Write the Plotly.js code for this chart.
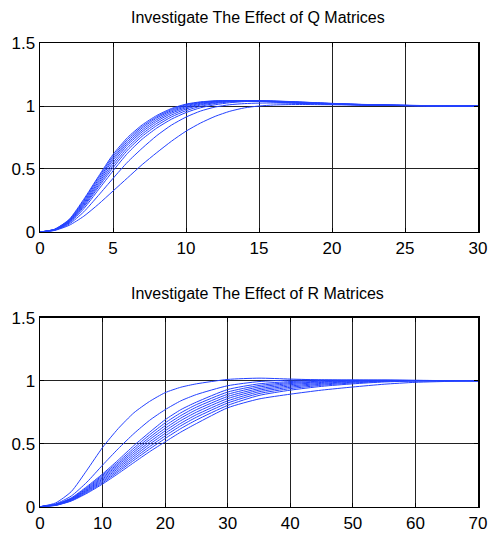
<!DOCTYPE html>
<html>
<head>
<meta charset="utf-8">
<script src="https://cdn.plot.ly/plotly-3.0.1.min.js"></script>
<style>html,body{margin:0;padding:0;background:#fff;}#chart{width:491px;height:535px;}</style>
</head>
<body>
<div id="chart"></div>
<script>
// ---- Top panel: effect of Q matrices ----
var qTitle = "Investigate The Effect of Q Matrices";
var qX = [0,1,2,3,4,5,6,7,8,9,10,11,12,13,14,15,16,17,18,19,20,22,24,26,28,30];
var q1 = [0,0.022,0.1,0.26,0.44,0.615,0.75,0.85,0.925,0.98,1.015,1.033,1.041,1.043,1.041,1.037,1.032,1.027,1.022,1.018,1.014,1.008,1.004,1.002,1.0,1.0];
var q2 = [0,0.021,0.096,0.25,0.43,0.60,0.735,0.838,0.915,0.972,1.01,1.03,1.04,1.043,1.042,1.038,1.033,1.028,1.023,1.019,1.015,1.009,1.005,1.002,1.001,1.0];
var q3 = [0,0.02,0.092,0.24,0.415,0.585,0.72,0.825,0.905,0.963,1.003,1.026,1.038,1.042,1.042,1.039,1.035,1.03,1.025,1.02,1.016,1.01,1.005,1.002,1.001,1.0];
var q4 = [0,0.019,0.088,0.23,0.40,0.57,0.705,0.81,0.892,0.953,0.995,1.021,1.035,1.041,1.042,1.04,1.036,1.031,1.026,1.021,1.017,1.01,1.006,1.003,1.001,1.0];
var q5 = [0,0.018,0.084,0.22,0.385,0.55,0.69,0.795,0.878,0.942,0.986,1.015,1.031,1.039,1.042,1.041,1.037,1.032,1.027,1.022,1.018,1.011,1.006,1.003,1.001,1.0];
var q6 = [0,0.017,0.08,0.21,0.37,0.53,0.67,0.778,0.862,0.928,0.976,1.008,1.026,1.036,1.041,1.041,1.038,1.034,1.029,1.024,1.019,1.012,1.007,1.003,1.001,1.0];
var q7 = [0,0.016,0.076,0.20,0.355,0.51,0.65,0.76,0.845,0.913,0.963,0.998,1.02,1.033,1.039,1.041,1.039,1.035,1.03,1.025,1.02,1.012,1.007,1.004,1.002,1.0];
var q8 = [0,0.015,0.071,0.185,0.335,0.485,0.625,0.737,0.825,0.895,0.948,0.986,1.01,1.026,1.035,1.039,1.039,1.036,1.031,1.026,1.021,1.013,1.008,1.004,1.002,1.0];
var q9 = [0,0.014,0.063,0.16,0.29,0.425,0.555,0.665,0.765,0.848,0.912,0.96,0.992,1.01,1.019,1.023,1.024,1.022,1.02,1.018,1.015,1.01,1.006,1.003,1.001,1.0];
var q10 = [0,0.012,0.053,0.125,0.22,0.325,0.43,0.535,0.63,0.72,0.80,0.865,0.918,0.958,0.985,1.0,1.008,1.011,1.012,1.011,1.01,1.007,1.004,1.002,1.001,1.0];
var qTicksX = [0,5,10,15,20,25,30];

// ---- Bottom panel: effect of R matrices ----
var rTitle = "Investigate The Effect of R Matrices";
var rX = [0,2.5,5,7.5,10,12.5,15,17.5,20,22.5,25,30,35,40,45,50,55,60,70];
var r1 = [0,0.03,0.12,0.29,0.47,0.62,0.745,0.835,0.905,0.948,0.975,1.01,1.02,1.013,1.006,1.002,1.001,1.0,1.0];
var r2 = [0,0.022,0.085,0.195,0.33,0.46,0.58,0.685,0.77,0.84,0.89,0.96,0.993,1.004,1.006,1.004,1.002,1.001,1.0];
var r3 = [0,0.018,0.07,0.16,0.26,0.37,0.485,0.59,0.69,0.77,0.83,0.93,0.975,0.993,1.002,1.005,1.004,1.002,1.0];
var r4 = [0,0.017,0.066,0.152,0.25,0.355,0.465,0.57,0.665,0.745,0.81,0.91,0.962,0.985,0.996,1.003,1.004,1.002,1.0];
var r5 = [0,0.016,0.063,0.145,0.24,0.342,0.448,0.55,0.643,0.723,0.79,0.892,0.95,0.977,0.991,1.0,1.003,1.002,1.0];
var r6 = [0,0.015,0.06,0.138,0.23,0.33,0.432,0.532,0.622,0.703,0.77,0.875,0.937,0.968,0.986,0.997,1.002,1.002,1.0];
var r7 = [0,0.014,0.057,0.132,0.22,0.317,0.416,0.513,0.602,0.683,0.75,0.858,0.925,0.958,0.979,0.993,1.0,1.001,1.0];
var r8 = [0,0.013,0.054,0.126,0.21,0.304,0.40,0.495,0.582,0.662,0.73,0.84,0.912,0.948,0.972,0.988,0.997,1.0,1.0];
var r9 = [0,0.012,0.051,0.12,0.20,0.29,0.384,0.476,0.562,0.642,0.71,0.823,0.898,0.937,0.964,0.982,0.994,0.999,1.0];
var r10 = [0,0.011,0.048,0.113,0.19,0.277,0.368,0.457,0.541,0.62,0.688,0.804,0.883,0.925,0.955,0.975,0.99,0.997,1.0];
var r11 = [0,0.01,0.045,0.106,0.18,0.263,0.35,0.436,0.515,0.592,0.66,0.785,0.855,0.893,0.925,0.95,0.972,0.987,1.0];
var rTicksX = [0,10,20,30,40,50,60,70];

var yTicks = [0,0.5,1,1.5];
var yTickText = ["0","0.5","1","1.5"];

var FONT = "'Liberation Sans', Arial, sans-serif";
var LINE = {color:"rgb(35,65,255)", width:1, shape:"spline", smoothing:0.6};

var traces = [];
[q1,q2,q3,q4,q5,q6,q7,q8,q9,q10].forEach(function(s){
  traces.push({x:qX, y:s, type:"scatter", mode:"lines", line:LINE, xaxis:"x", yaxis:"y", hoverinfo:"skip"});
});
[r1,r2,r3,r4,r5,r6,r7,r8,r9,r10,r11].forEach(function(s){
  traces.push({x:rX, y:s, type:"scatter", mode:"lines", line:LINE, xaxis:"x2", yaxis:"y2", hoverinfo:"skip"});
});

function axis(extra){
  var a = {
    showline:true, linecolor:"#000", linewidth:1.5, mirror:"allticks",
    ticks:"inside", ticklen:4, tickcolor:"#000", tickwidth:1,
    showgrid:true, gridcolor:"#222", gridwidth:1,
    zeroline:false, tickfont:{family:FONT, size:17, color:"#000"},
    fixedrange:true
  };
  for (var k in extra) a[k] = extra[k];
  return a;
}

var layout = {
  width:491, height:535,
  margin:{l:40, r:13, t:0, b:0},
  paper_bgcolor:"#fff", plot_bgcolor:"#fff",
  showlegend:false,
  xaxis: axis({domain:[0,1], range:[0,30], tickvals:qTicksX, anchor:"y"}),
  yaxis: axis({domain:[0.5664,0.9196], range:[0,1.5], tickvals:yTicks, ticktext:yTickText, anchor:"x"}),
  xaxis2: axis({domain:[0,1], range:[0,70], tickvals:rTicksX, anchor:"y2"}),
  yaxis2: axis({domain:[0.0529,0.4062], range:[0,1.5], tickvals:yTicks, ticktext:yTickText, anchor:"x2"}),
  annotations:[
    {text:qTitle, xref:"paper", yref:"paper", x:0.497, y:(535-17)/535, xanchor:"center", yanchor:"middle", showarrow:false, font:{family:FONT, size:16, color:"#000"}},
    {text:rTitle, xref:"paper", yref:"paper", x:0.497, y:(535-294)/535, xanchor:"center", yanchor:"middle", showarrow:false, font:{family:FONT, size:16, color:"#000"}}
  ]
};

Plotly.newPlot("chart", traces, layout, {staticPlot:true, displayModeBar:false});
</script>
</body>
</html>
